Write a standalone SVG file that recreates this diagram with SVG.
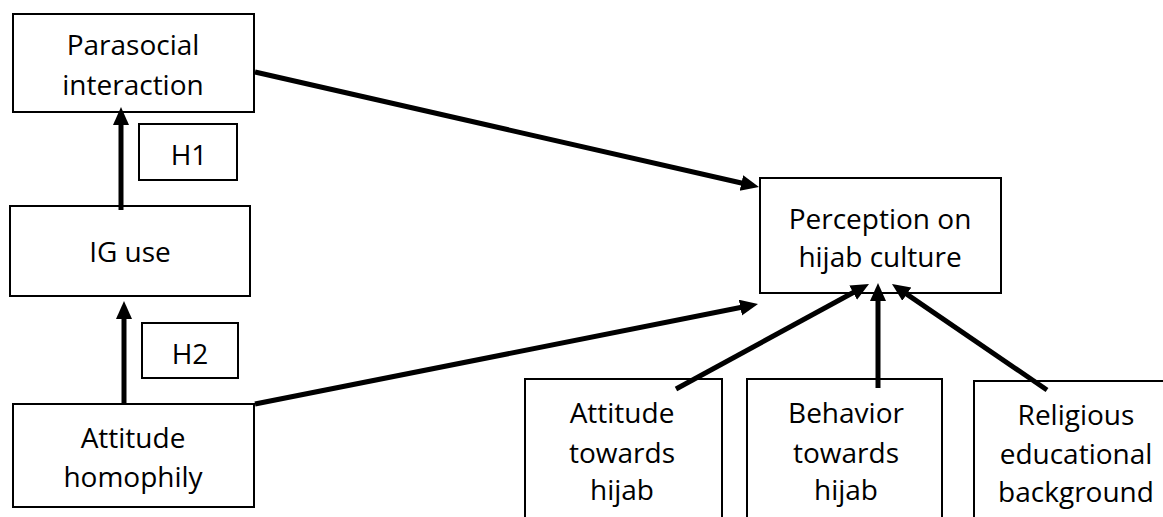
<svg xmlns="http://www.w3.org/2000/svg" width="1163" height="517" viewBox="0 0 1163 517">
<style>
.box{fill:#fff;stroke:#000;stroke-width:2}
.t{font-family:"Open Sans","Liberation Sans",sans-serif;font-size:28px;fill:#000;text-anchor:middle}
.c{stroke:#000;stroke-width:5;fill:none;marker-end:url(#ah)}
</style>
<defs>
<marker id="ah" markerUnits="userSpaceOnUse" markerWidth="19" markerHeight="17" refX="9" refY="8" orient="auto">
<path d="M0,0 L18,8 L0,16 z" fill="#000"/>
</marker>
</defs>
<rect width="1163" height="517" fill="#fff"/>
<g id="parasocial">
<rect class="box" x="13" y="14" width="241" height="98"/>
<text class="t" x="133" y="55">Parasocial</text>
<text class="t" x="133" y="95">interaction</text>
</g>
<g id="h1">
<rect class="box" x="139" y="124" width="98" height="56"/>
<text class="t" x="189" y="165">H1</text>
</g>
<g id="iguse">
<rect class="box" x="10" y="206" width="240" height="90"/>
<text class="t" x="130" y="262">IG use</text>
</g>
<g id="h2">
<rect class="box" x="142" y="323" width="96" height="55"/>
<text class="t" x="190" y="364">H2</text>
</g>
<g id="homophily">
<rect class="box" x="13" y="404" width="241" height="103"/>
<text class="t" x="133" y="448">Attitude</text>
<text class="t" x="133" y="487">homophily</text>
</g>
<g id="perception">
<rect class="box" x="760" y="178" width="241" height="115"/>
<text class="t" x="880" y="229">Perception on</text>
<text class="t" x="880" y="267">hijab culture</text>
</g>
<g id="attitude-hijab">
<rect class="box" x="525" y="379" width="197" height="160"/>
<text class="t" x="622" y="423">Attitude</text>
<text class="t" x="622" y="463">towards</text>
<text class="t" x="622" y="500">hijab</text>
</g>
<g id="behavior-hijab">
<rect class="box" x="747" y="379" width="195" height="160"/>
<text class="t" x="846" y="423">Behavior</text>
<text class="t" x="846" y="463">towards</text>
<text class="t" x="846" y="500">hijab</text>
</g>
<g id="religious">
<rect class="box" x="974" y="381" width="210" height="160"/>
<text class="t" x="1076" y="425">Religious</text>
<text class="t" x="1076" y="464">educational</text>
<text class="t" x="1076" y="502">background</text>
</g>
<g id="connectors">
<line class="c" x1="121" y1="210" x2="121" y2="116"/>
<line class="c" x1="124" y1="405" x2="124" y2="310"/>
<line class="c" x1="255" y1="72" x2="750.2" y2="185"/>
<line class="c" x1="255" y1="404" x2="749.2" y2="305.8"/>
<line class="c" x1="676" y1="389" x2="861.1" y2="288.3"/>
<line class="c" x1="878" y1="388" x2="878" y2="292"/>
<line class="c" x1="1047" y1="390" x2="899.4" y2="289.1"/>
</g>
</svg>
